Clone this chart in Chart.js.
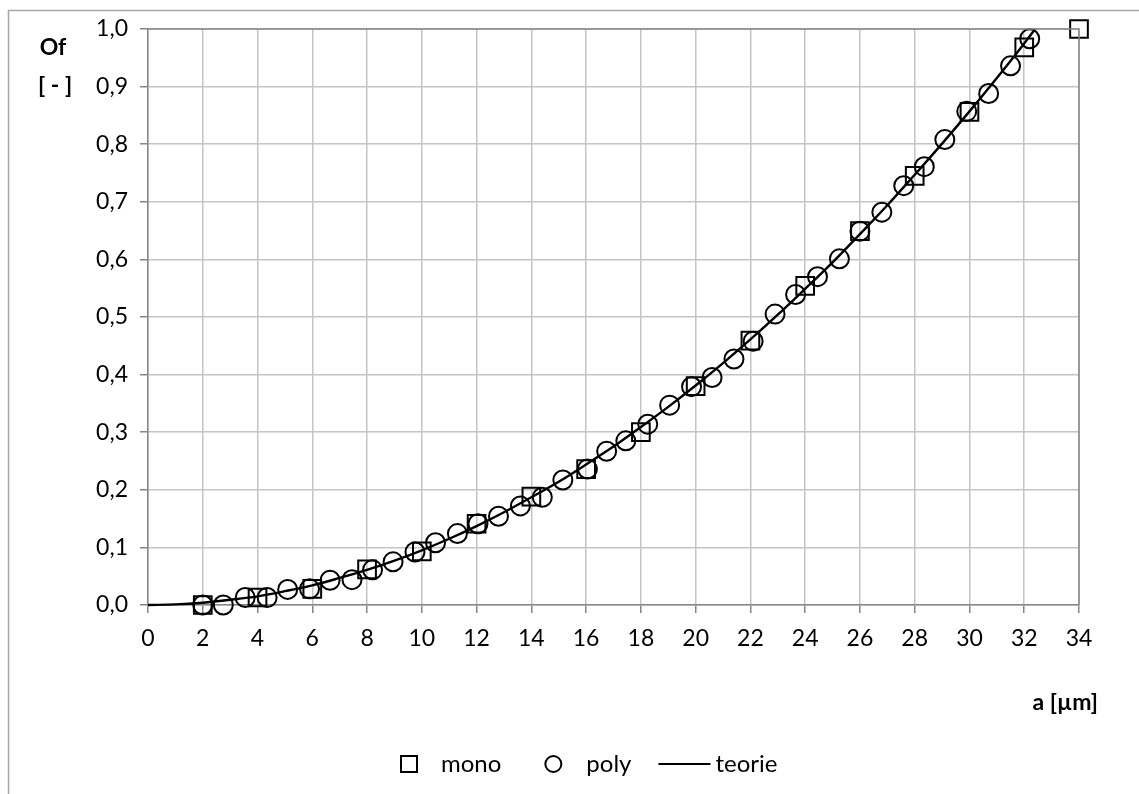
<!DOCTYPE html>
<html>
<head>
<meta charset="utf-8">
<script src="https://cdn.jsdelivr.net/npm/chart.js@4.4.1/dist/chart.umd.min.js"></script>
<style>
  html, body { margin: 0; padding: 0; background: #fff; }
  #wrap { width: 1139px; height: 794px; }
</style>
</head>
<body>
<div id="wrap"><canvas id="ofChart" width="1139" height="794"></canvas></div>
<script>
// measured points: a [µm] vs Of [-]
const monoA  = [2, 4, 6, 8, 10, 12, 14, 16, 18, 20, 22, 24, 26, 28, 30, 32, 34];
const monoOf = [0.000, 0.013, 0.028, 0.062, 0.093, 0.141, 0.188, 0.236, 0.300, 0.380,
                0.459, 0.554, 0.649, 0.745, 0.856, 0.968, 1.000];

const polyA  = [2.0, 2.75, 3.55, 4.35, 5.1, 5.9, 6.65, 7.45, 8.2, 8.95, 9.75, 10.5, 11.3,
                12.05, 12.8, 13.6, 14.4, 15.15, 16.05, 16.75, 17.45, 18.25, 19.05, 19.85,
                20.6, 21.4, 22.1, 22.9, 23.65, 24.45, 25.25, 26.0, 26.8, 27.6, 28.35, 29.1,
                29.9, 30.7, 31.5, 32.2];
const polyOf = [0.000, 0.000, 0.013, 0.013, 0.027, 0.028, 0.043, 0.044, 0.061, 0.075,
                0.092, 0.108, 0.124, 0.141, 0.154, 0.172, 0.187, 0.217, 0.236, 0.267,
                0.285, 0.314, 0.347, 0.379, 0.395, 0.427, 0.458, 0.505, 0.539, 0.570,
                0.601, 0.649, 0.682, 0.728, 0.761, 0.808, 0.857, 0.888, 0.936, 0.983];

// theory curve
const teorieA  = [0, 1, 2, 3, 4, 5, 6, 7, 8, 9, 10, 11, 12, 13, 14, 15, 16, 17, 18, 19,
                  20, 21, 22, 23, 24, 25, 26, 27, 28, 29, 30, 31, 32, 32.4];
const teorieOf = [0.000, 0.001, 0.004, 0.009, 0.015, 0.024, 0.034, 0.047, 0.061, 0.077,
                  0.095, 0.115, 0.137, 0.161, 0.187, 0.214, 0.244, 0.275, 0.309, 0.344,
                  0.381, 0.420, 0.461, 0.504, 0.549, 0.595, 0.644, 0.694, 0.747, 0.801,
                  0.857, 0.915, 0.975, 1.000];

const xTickValues = [0, 2, 4, 6, 8, 10, 12, 14, 16, 18, 20, 22, 24, 26, 28, 30, 32, 34];
const yTickValues = [0, 0.1, 0.2, 0.3, 0.4, 0.5, 0.6, 0.7, 0.8, 0.9, 1.0];

const FONT = 'Lato, "Open Sans", sans-serif';
const AXIS_GRAY = '#868686';
const GRID_GRAY = '#c4c4c4';

const toXY = (xs, ys) => xs.map((x, i) => ({ x, y: ys[i] }));

// frame, plot border, axis titles and the legend row
const decorPlugin = {
  id: 'decor',
  afterDraw(chart) {
    const { ctx, chartArea: a } = chart;
    ctx.save();

    ctx.strokeStyle = '#a6a6a6';
    ctx.lineWidth = 1.5;
    ctx.beginPath();
    ctx.moveTo(8.5, 794);
    ctx.lineTo(8.5, 10.5);
    ctx.lineTo(1139, 10.5);
    ctx.stroke();

    ctx.strokeStyle = AXIS_GRAY;
    ctx.lineWidth = 1.5;
    ctx.beginPath();
    ctx.moveTo(a.left, a.top);
    ctx.lineTo(a.right, a.top);
    ctx.lineTo(a.right, a.bottom);
    ctx.stroke();

    ctx.fillStyle = '#000';
    ctx.font = 'bold 23px ' + FONT;
    ctx.textAlign = 'center';
    ctx.textBaseline = 'middle';
    ctx.fillText('Of', 53, 48);
    ctx.fillText('[ - ]', 55, 86);
    ctx.textAlign = 'right';
    ctx.fillText('a [µm]', 1098, 703);

    // legend
    ctx.font = '24px ' + FONT;
    ctx.textAlign = 'left';
    const ly = 764;
    let lx = 400;
    chart.data.datasets.forEach(ds => {
      ctx.strokeStyle = '#000';
      if (ds.pointStyle === 'rect') {
        ctx.lineWidth = 2;
        ctx.strokeRect(lx + 1, ly - 8, 16, 16);
        lx += 41;
      } else if (ds.pointStyle === 'circle') {
        ctx.lineWidth = 2;
        ctx.beginPath();
        ctx.arc(lx + 9, ly, 8, 0, Math.PI * 2);
        ctx.stroke();
        lx += 42;
      } else {
        ctx.lineWidth = 2.2;
        ctx.beginPath();
        ctx.moveTo(lx, ly);
        ctx.lineTo(lx + 52, ly);
        ctx.stroke();
        lx += 57;
      }
      ctx.fillText(ds.label, lx, ly);
      lx += ctx.measureText(ds.label).width + (ds.pointStyle === 'rect' ? 43 : 27);
    });

    ctx.restore();
  }
};

new Chart(document.getElementById('ofChart'), {
  type: 'scatter',
  data: {
    datasets: [
      {
        label: 'mono',
        data: toXY(monoA, monoOf),
        pointStyle: 'rect',
        pointRadius: 12.5,
        pointBorderWidth: 2,
        pointBorderColor: '#000',
        pointBackgroundColor: 'rgba(0,0,0,0)',
        showLine: false,
        clip: false
      },
      {
        label: 'poly',
        data: toXY(polyA, polyOf),
        pointStyle: 'circle',
        pointRadius: 9.5,
        pointBorderWidth: 2,
        pointBorderColor: '#000',
        pointBackgroundColor: 'rgba(0,0,0,0)',
        showLine: false,
        clip: false
      },
      {
        label: 'teorie',
        data: toXY(teorieA, teorieOf),
        pointStyle: 'line',
        pointRadius: 0,
        showLine: true,
        borderColor: '#000',
        borderWidth: 2.4,
        cubicInterpolationMode: 'monotone',
        clip: false
      }
    ]
  },
  options: {
    responsive: false,
    animation: false,
    events: [],
    layout: { padding: { top: 29, right: 60, bottom: 0, left: 0 } },
    plugins: {
      legend: { display: false },
      tooltip: { enabled: false }
    },
    scales: {
      x: {
        type: 'linear',
        min: 0,
        max: 34,
        afterFit: s => { s.height = 189; },
        afterBuildTicks: s => { s.ticks = xTickValues.map(value => ({ value })); },
        grid: { color: GRID_GRAY, lineWidth: 1.5, tickLength: 8, tickColor: AXIS_GRAY },
        border: { color: AXIS_GRAY, width: 1.5 },
        ticks: {
          color: '#000',
          font: { family: FONT, size: 23 },
          padding: 12,
          maxRotation: 0,
          callback: v => String(v)
        }
      },
      y: {
        type: 'linear',
        min: 0,
        max: 1,
        afterFit: s => { s.width = 148; },
        afterBuildTicks: s => { s.ticks = yTickValues.map(value => ({ value })); },
        grid: { color: GRID_GRAY, lineWidth: 1.5, tickLength: 8, tickColor: AXIS_GRAY },
        border: { color: AXIS_GRAY, width: 1.5 },
        ticks: {
          color: '#000',
          font: { family: FONT, size: 23 },
          padding: 12,
          callback: v => v.toFixed(1).replace('.', ',')
        }
      }
    }
  },
  plugins: [decorPlugin]
});
</script>
</body>
</html>
